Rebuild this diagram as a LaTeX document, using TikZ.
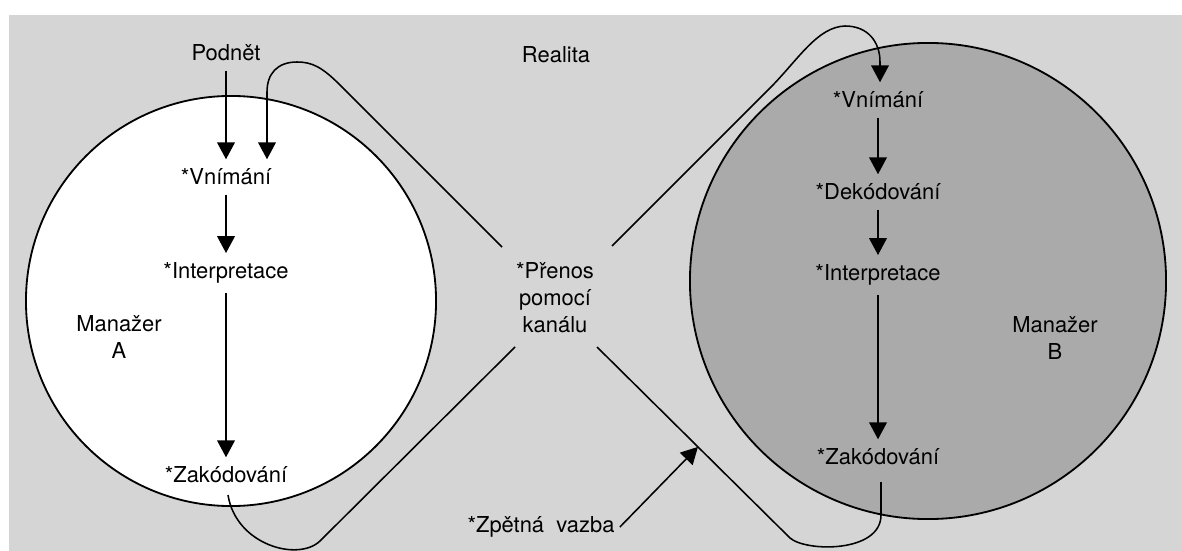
\documentclass[tikz,border=0pt]{standalone}
\usepackage{fontspec}
\setmainfont{TeX Gyre Heros}
\usetikzlibrary{arrows.meta}
\definecolor{realitagrey}{HTML}{D5D5D5}
\definecolor{shadeB}{HTML}{AAAAAA}
\begin{document}
\begin{tikzpicture}[x=0.025cm, y=-0.025cm, >={Triangle[length=4.2mm,width=4.4mm]}, line width=1.1pt,
  lbl/.style={align=center, inner ysep=2.2mm, font=\fontsize{15.6pt}{19.2pt}\selectfont},
  mgr/.style={draw, circle, inner sep=0pt, line width=1.3pt}]
\useasboundingbox (0,0) rectangle (1182,551);
\fill[realitagrey] (9,15) rectangle (1182,551);
\node[mgr, fill=white, minimum size=10.25cm] (mgrA) at (231,301) {};
\node[mgr, fill=shadeB, minimum size=11.9cm] (mgrB) at (928,281) {};
\node[lbl] (podnet) at (226,53) {Podnět};
\node[lbl] (realita) at (556,55) {Realita};
\node[lbl] (vnimA) at (226,177) {*Vnímání};
\node[lbl] (interA) at (226,273) {*Interpretace};
\node[lbl] (zakA) at (226,475) {*Zakódování};
\node[lbl] (manA) at (119,337) {Manažer\\A};
\node[lbl] (kanal) at (555,298) {*Přenos\\pomocí\\kanálu};
\node[lbl] (vnimB) at (878,100) {*Vnímání};
\node[lbl] (dekB) at (878,192) {*Dekódování};
\node[lbl] (interB) at (878,275) {*Interpretace};
\node[lbl] (zakB) at (878,457) {*Zakódování};
\node[lbl] (manB) at (1055,338) {Manažer\\B};
\node[lbl] (vazba) at (541,527) {*Zpětná\ \ vazba};
\coordinate (kanalNW) at (502,247);
\coordinate (kanalNE) at (612,246);
\coordinate (kanalSW) at (515,347);
\coordinate (kanalSE) at (597,347);
\coordinate (inA) at (267,0);
\coordinate (inB) at (880,0);
\coordinate (outA) at (228,495);
\coordinate (outB) at (881,482);
\draw[->] (podnet) -- (vnimA);
\draw[->] (vnimA) -- (interA);
\draw[->] (interA) -- (zakA);
\draw[->] (vnimB) -- (dekB);
\draw[->] (dekB) -- (interB);
\draw[->] (interB) -- (zakB);
\draw[->] (kanalNW) -- (340,85) .. controls (322,67) and (312,62) .. (297,62)
  .. controls (277,62) and (267,74) .. (267,92) -- (vnimA.north -| inA);
\draw[->] (kanalNE) -- (772,86) .. controls (800,57) and (818,27) .. (845,26)
  .. controls (868,26) and (880,42) .. (880,62) -- (vnimB.north -| inB);
\draw (outA) .. controls (236,545) and (298,562) .. (320,541) -- (kanalSW);
\draw (kanalSE) -- coordinate[pos=0.523] (fb) (790,538) .. controls (806,552) and (881,553) .. (881,515) -- (outB);
\draw[->] (vazba.east) -- (fb);
\end{tikzpicture}
\end{document}
